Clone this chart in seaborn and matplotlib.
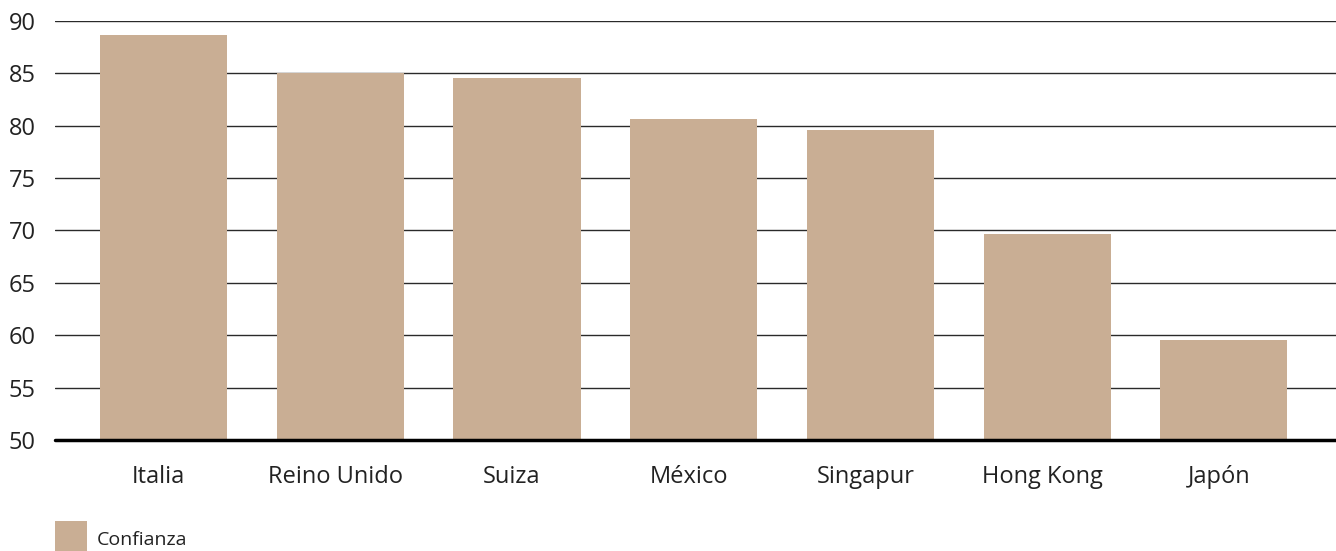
import matplotlib
matplotlib.use("Agg")
import matplotlib.pyplot as plt
from matplotlib.patches import Rectangle
from matplotlib.transforms import ScaledTranslation
import pandas as pd
import seaborn as sns

# data
countries = ["Italia", "Reino Unido", "Suiza", "México", "Singapur", "Hong Kong", "Japón"]
confianza = [88.7, 85.0, 84.6, 80.6, 79.6, 69.7, 59.5]
y_ticks = [50, 55, 60, 65, 70, 75, 80, 85, 90]
series_name = "Confianza"

bar_color = "#C9AE94"
text_color = "#222222"

sns.set_style("white")
plt.rcParams["font.family"] = ["Open Sans", "DejaVu Sans"]

df = pd.DataFrame({"pais": countries, "valor": confianza})

W, H = 1336, 551
fig = plt.figure(figsize=(W / 100, H / 100), dpi=100)
ax = fig.add_axes([55 / W, 111 / H, 1 - 55 / W, 419 / H])

sns.barplot(data=df, x="pais", y="valor", color=bar_color, width=0.72,
            saturation=1, linewidth=0, ax=ax, zorder=3)

ax.set_ylim(50, 90)
ax.set_xlim(-0.615, 6.635)
ax.set_yticks(y_ticks)
ax.set_yticklabels([str(t) for t in y_ticks])

# horizontal gridlines
for t in y_ticks[1:]:
    ax.axhline(t, color="#2a2a2a", lw=1.0, zorder=1)
ax.axhline(50, color="black", lw=2.5, zorder=4, clip_on=False)

for s in ax.spines.values():
    s.set_visible(False)

ax.tick_params(axis="y", length=0, pad=14, labelsize=17, labelcolor=text_color)
ax.tick_params(axis="x", length=0, pad=18, labelsize=17, labelcolor=text_color)
ax.set_xlabel("")
ax.set_ylabel("")

# category labels sit a little left of the bar centres in the original
shift = ScaledTranslation(-5 / 100, 0, fig.dpi_scale_trans)
for lbl in ax.get_xticklabels():
    lbl.set_transform(lbl.get_transform() + shift)

# legend: swatch + label at the bottom left
fig.add_artist(Rectangle((55 / W, (H - 553) / H), 32 / W, 32 / H,
                         transform=fig.transFigure, facecolor=bar_color,
                         edgecolor="none", clip_on=False))
fig.text(97 / W, (H - 540) / H, series_name, fontsize=14, color=text_color,
         ha="left", va="center")

fig.savefig("out.png", dpi=100)
